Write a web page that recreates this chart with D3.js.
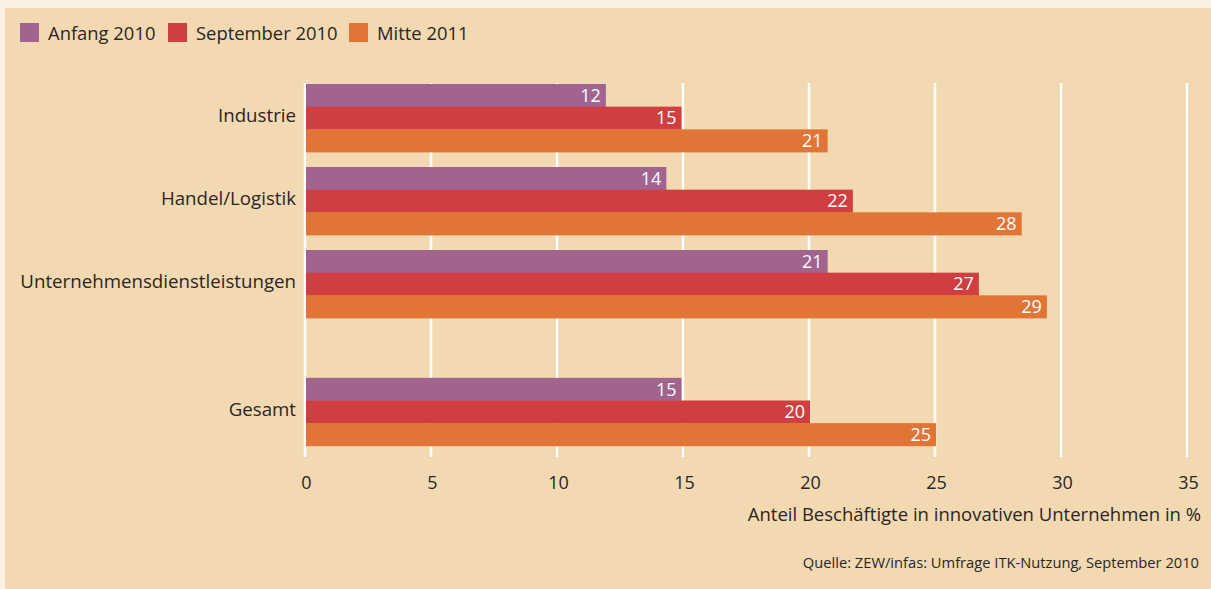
<!DOCTYPE html>
<html>
<head>
<meta charset="utf-8">
<script src="https://cdn.jsdelivr.net/npm/d3@7"></script>
<style>
  html, body { margin: 0; padding: 0; background: #faf1e2; }
  svg { display: block; font-family: "Open Sans", sans-serif; }
</style>
</head>
<body>
<svg id="chart"></svg>
<script>
const categories = ['Industrie', 'Handel/Logistik', 'Unternehmensdienstleistungen', 'Gesamt'];
const series = ['Anfang 2010', 'September 2010', 'Mitte 2011'];
const colors = ['#a1648f', '#d13e41', '#e07537'];

const anfang2010 = [11.9, 14.3, 20.7, 14.9];
const september2010 = [14.9, 21.7, 26.7, 20.0];
const mitte2011 = [20.7, 28.4, 29.4, 25.0];
const values = [anfang2010, september2010, mitte2011];

const xTicks = [0, 5, 10, 15, 20, 25, 30, 35];
const axisTitle = 'Anteil Beschäftigte in innovativen Unternehmen in %';
const source = 'Quelle: ZEW/infas: Umfrage ITK-Nutzung, September 2010';

const fullWidth = 1211;
const fullHeight = 589;
const ink = '#2b2624';

const svg = d3.select('#chart')
    .attr('width', fullWidth)
    .attr('height', fullHeight);

// beige panel, light strip on top and left
svg.append('rect')
    .attr('x', 5).attr('y', 8)
    .attr('width', fullWidth - 5).attr('height', fullHeight - 8)
    .attr('fill', '#f2d9b2');

const x = d3.scaleLinear().domain([0, 35]).range([306, 1188]);

// group tops: Gesamt sits lower, after a wider gap
const groupSlot = d3.scaleLinear().domain([0, 1]).range([84, 167]);
const slots = [0, 1, 2, 3.54];
const groupHeight = 68;
const inner = d3.scaleBand().domain(series).range([0, groupHeight]);

// grid
const grid = svg.append('g').attr('class', 'grid');
grid.selectAll('line').data(xTicks).join('line')
    .attr('x1', d => x(d) - 1).attr('x2', d => x(d) - 1)
    .attr('y1', 83).attr('y2', 457)
    .attr('stroke', '#ffffff')
    .attr('stroke-width', 2.5);

// bars
const groups = svg.append('g').attr('class', 'bars')
    .selectAll('g').data(categories).join('g')
    .attr('transform', (d, i) => `translate(0,${groupSlot(slots[i])})`);

groups.each(function(cat, ci) {
    const g = d3.select(this);
    const rows = series.map((s, si) => ({s, si, v: values[si][ci]}));
    g.selectAll('rect').data(rows).join('rect')
        .attr('x', x(0))
        .attr('y', d => inner(d.s))
        .attr('width', d => x(d.v) - x(0))
        .attr('height', inner.bandwidth() + 0.4)
        .attr('fill', d => colors[d.si]);
    g.selectAll('text.value').data(rows).join('text')
        .attr('class', 'value')
        .attr('x', d => x(d.v) - 5)
        .attr('y', d => inner(d.s) + inner.bandwidth() / 2)
        .attr('dy', '0.36em')
        .attr('text-anchor', 'end')
        .attr('fill', '#ffffff')
        .style('font-size', '18px')
        .text(d => d3.format('.0f')(d.v));
    g.append('text')
        .attr('x', 296)
        .attr('y', groupHeight / 2 - 3)
        .attr('dy', '0.36em')
        .attr('text-anchor', 'end')
        .attr('fill', ink)
        .style('font-size', '18.7px')
        .text(cat);
});

// x axis labels
const axis = svg.append('g')
    .attr('transform', 'translate(0,475)')
    .call(d3.axisBottom(x).tickValues(xTicks).tickSize(0).tickPadding(0));
axis.select('.domain').remove();
axis.selectAll('text')
    .attr('y', 8)
    .attr('dy', '0.36em')
    .attr('fill', ink)
    .style('font-family', '"Open Sans", sans-serif')
    .style('font-size', '18px');

svg.append('text')
    .attr('x', 1201).attr('y', 521)
    .attr('text-anchor', 'end')
    .attr('fill', ink)
    .style('font-size', '18.5px')
    .text(axisTitle);

svg.append('text')
    .attr('x', 1199).attr('y', 568)
    .attr('text-anchor', 'end')
    .attr('fill', ink)
    .style('font-size', '14.7px')
    .text(source);

// legend
const legendX = [20, 168, 349];
const legend = svg.append('g').selectAll('g').data(series).join('g')
    .attr('transform', (d, i) => `translate(${legendX[i]},23)`);
legend.append('rect')
    .attr('width', 19).attr('height', 19)
    .attr('fill', (d, i) => colors[i]);
legend.append('text')
    .attr('x', 28).attr('y', 10)
    .attr('dy', '0.36em')
    .attr('fill', ink)
    .style('font-size', '18.4px')
    .text(d => d);
</script>
</body>
</html>
